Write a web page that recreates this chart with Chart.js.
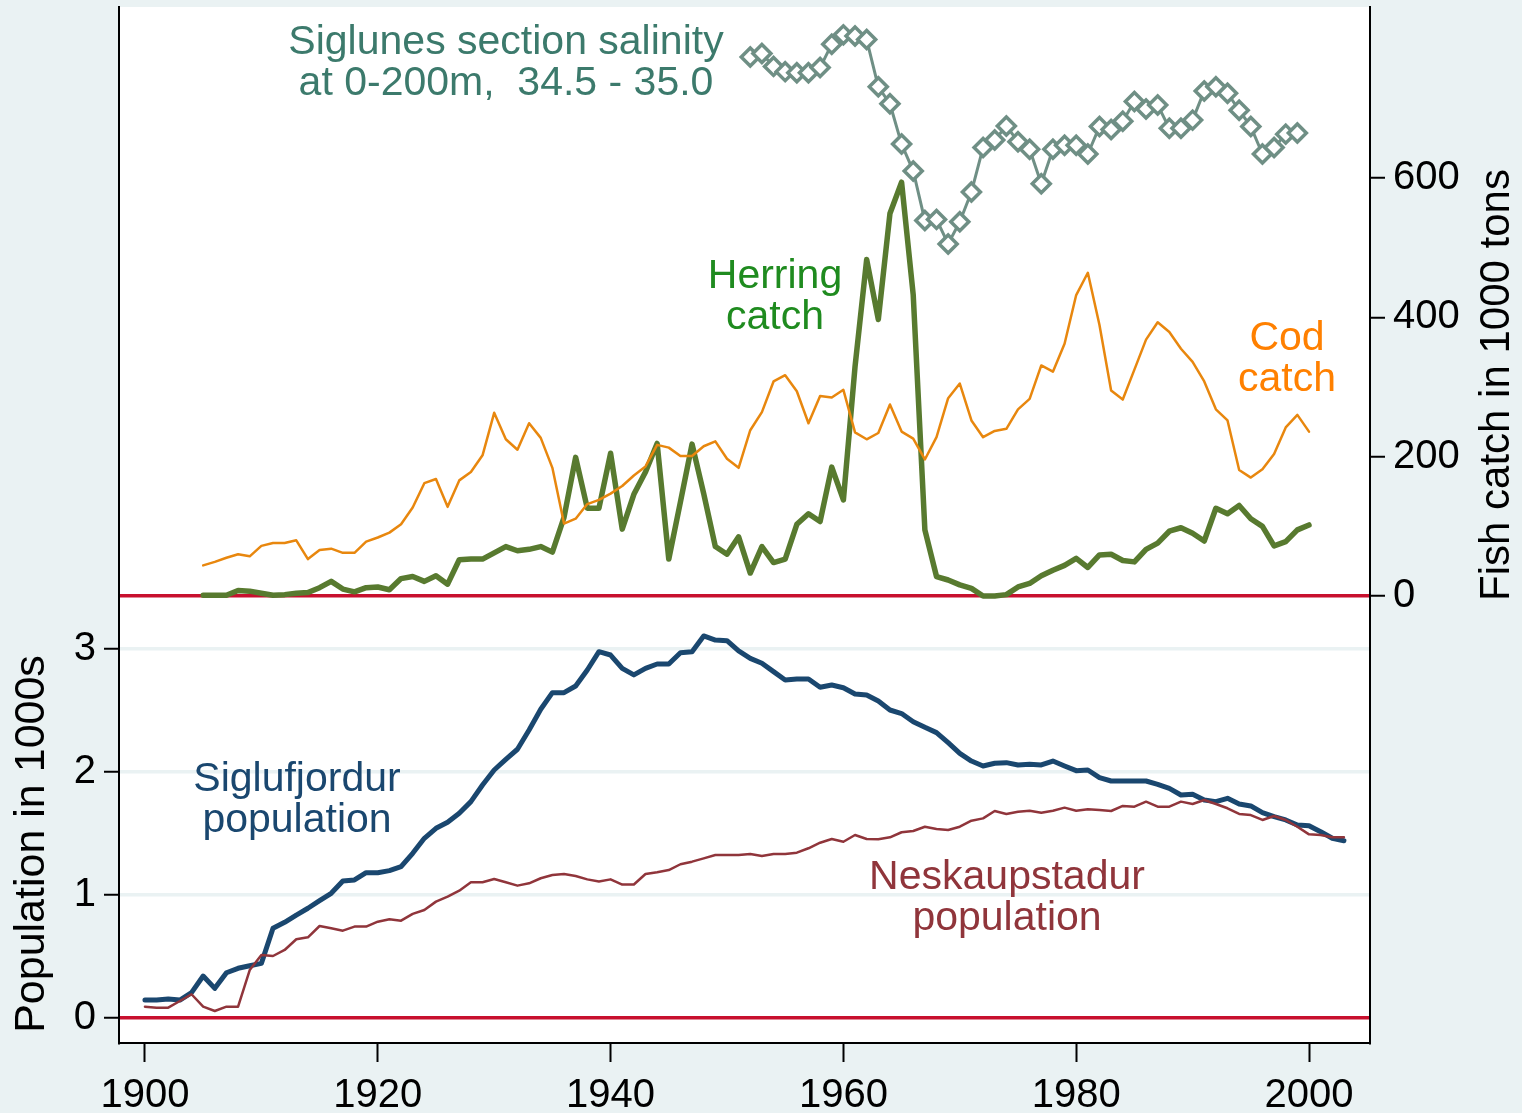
<!DOCTYPE html>
<html>
<head>
<meta charset="utf-8">
<script src="https://cdn.jsdelivr.net/npm/chart.js@4.4.1/dist/chart.umd.min.js"></script>
<style>
html,body{margin:0;padding:0;background:#EAF2F3;}
canvas{display:block;}
</style>
</head>
<body>
<canvas id="c" width="1522" height="1113"></canvas>
<script>
// ---------------- DATA ----------------
const xTicks = [1900, 1920, 1940, 1960, 1980, 2000];
const fishTicks = [0, 200, 400, 600];
const popTicks = [0, 1, 2, 3];

const codStart = 1905;
const codCatch = [44,49,55,60,57,72,76,76,80,53,66,68,62,62,78,84,91,103,127,162,168,128,166,178,202,263,225,210,248,227,184,104,111,132,138,147,158,173,186,217,213,201,201,215,222,197,184,238,264,308,317,294,248,287,285,296,235,225,234,275,236,226,196,228,284,305,252,228,237,240,268,283,331,322,362,432,464,389,295,282,325,368,393,379,355,336,308,268,252,181,170,182,204,242,260,236];

const herringStart = 1905;
const herringCatch = [1,1,1,8,7,4,1,2,4,5,12,21,10,6,12,13,9,25,28,21,29,17,52,53,53,62,71,65,67,71,63,113,199,126,126,205,96,146,178,219,53,135,218,147,71,60,85,33,71,48,53,103,118,107,185,138,329,483,397,549,594,432,95,28,23,16,11,0,0,2,13,18,29,37,44,54,41,59,60,51,49,67,76,93,98,90,79,126,118,130,111,100,72,78,95,102];

const salinityStart = 1952;
const salinity = [34.916,34.922,34.900,34.891,34.889,34.889,34.898,34.938,34.954,34.952,34.946,34.865,34.836,34.767,34.721,34.636,34.638,34.596,34.634,34.685,34.761,34.774,34.798,34.771,34.758,34.699,34.758,34.765,34.765,34.750,34.797,34.792,34.806,34.840,34.827,34.834,34.794,34.794,34.808,34.858,34.865,34.854,34.825,34.797,34.750,34.761,34.784,34.786];

const popStart = 1900;
const siglufjordurPop = [0.146,0.146,0.154,0.146,0.206,0.341,0.241,0.368,0.404,0.425,0.444,0.729,0.778,0.837,0.892,0.954,1.014,1.114,1.122,1.181,1.181,1.198,1.230,1.339,1.461,1.542,1.591,1.664,1.759,1.894,2.016,2.103,2.185,2.341,2.510,2.645,2.645,2.699,2.829,2.978,2.951,2.843,2.789,2.843,2.878,2.878,2.970,2.978,3.106,3.073,3.068,2.984,2.924,2.884,2.816,2.748,2.756,2.756,2.689,2.707,2.685,2.634,2.626,2.577,2.504,2.475,2.409,2.363,2.320,2.238,2.152,2.089,2.049,2.071,2.076,2.057,2.063,2.057,2.089,2.049,2.011,2.016,1.954,1.927,1.927,1.927,1.927,1.900,1.867,1.813,1.819,1.772,1.759,1.786,1.740,1.724,1.669,1.637,1.610,1.569,1.563,1.515,1.461,1.441];
const neskaupstadurPop = [0.092,0.084,0.084,0.138,0.193,0.092,0.057,0.092,0.092,0.390,0.512,0.504,0.553,0.640,0.656,0.748,0.729,0.710,0.743,0.743,0.783,0.802,0.791,0.846,0.878,0.946,0.986,1.035,1.103,1.103,1.130,1.103,1.076,1.095,1.136,1.163,1.171,1.154,1.127,1.110,1.127,1.085,1.085,1.171,1.185,1.203,1.250,1.271,1.298,1.325,1.325,1.325,1.333,1.317,1.333,1.333,1.344,1.380,1.425,1.455,1.433,1.488,1.455,1.453,1.469,1.510,1.520,1.555,1.537,1.528,1.555,1.604,1.623,1.683,1.659,1.677,1.685,1.669,1.685,1.710,1.685,1.697,1.691,1.683,1.724,1.718,1.759,1.718,1.718,1.759,1.740,1.772,1.740,1.705,1.659,1.650,1.610,1.642,1.610,1.555,1.493,1.488,1.469,1.469];

const labels = [
  {lines:["Siglunes section salinity","at 0-200m,  34.5 - 35.0"], x:506, y:43, color:"#3C7A6C"},
  {lines:["Herring","catch"], x:775, y:277, color:"#1F8B1F"},
  {lines:["Cod","catch"], x:1287, y:339, color:"#FF8000"},
  {lines:["Siglufjordur","population"], x:297, y:780, color:"#1A476F"},
  {lines:["Neskaupstadur","population"], x:1007, y:878, color:"#90353B"}
];

// ---------------- HELPERS ----------------
function pts(start, arr){ return arr.map((v,i)=>({x:start+i, y:v})); }
const FONT = "'Liberation Sans', Arial, sans-serif";
const RED = '#C8102E';

const bgPlugin = {
  id:'bg',
  beforeDraw(chart){
    const {ctx, chartArea:a} = chart;
    ctx.save();
    ctx.fillStyle = '#EAF2F3';
    ctx.fillRect(0,0,chart.width,chart.height);
    ctx.fillStyle = '#FFFFFF';
    ctx.fillRect(a.left, a.top, a.right-a.left, a.bottom-a.top);
    ctx.restore();
  }
};

function rotText(ctx, text, x, y, size){
  ctx.save();
  ctx.font = size + "px " + FONT;
  ctx.textAlign = 'center';
  ctx.textBaseline = 'middle';
  ctx.fillStyle = '#000';
  ctx.translate(x, y);
  ctx.rotate(-Math.PI/2);
  ctx.fillText(text, 0, 0);
  ctx.restore();
}

const textPlugin = {
  id:'texts',
  afterDraw(chart){
    const ctx = chart.ctx;
    ctx.save();
    ctx.font = "41px " + FONT;
    ctx.textAlign = 'center';
    ctx.textBaseline = 'middle';
    labels.forEach(l=>{
      ctx.fillStyle = l.color;
      l.lines.forEach((t,i)=>ctx.fillText(t, l.x, l.y + i*41));
    });
    ctx.restore();
    rotText(ctx, "Fish catch in 1000 tons", 1497, 385, 42);
    rotText(ctx, "Population in 1000s", 32, 844, 43);
  }
};

const tickFont = {family:"'Liberation Sans', Arial, sans-serif", size:40};

new Chart(document.getElementById('c'), {
  type:'line',
  data:{
    datasets:[
      {label:'Salinity', data:pts(salinityStart, salinity), yAxisID:'ySal',
       borderColor:'#6F8F85', borderWidth:3, pointStyle:'rectRot', pointRadius:9,
       pointBorderWidth:3.5, pointBackgroundColor:'#FFFFFF', pointBorderColor:'#6F8F85', tension:0},
      {label:'Cod', data:pts(codStart, codCatch), yAxisID:'yFish',
       borderColor:'#E8870E', borderWidth:2.5, pointRadius:0, tension:0},
      {label:'Herring', data:pts(herringStart, herringCatch), yAxisID:'yFish',
       borderColor:'#587A2F', borderWidth:5.5, pointRadius:0, tension:0},
      {label:'Neskaupstadur', data:pts(popStart, neskaupstadurPop), yAxisID:'yPop',
       borderColor:'#90353B', borderWidth:2.5, pointRadius:0, tension:0},
      {label:'Siglufjordur', data:pts(popStart, siglufjordurPop), yAxisID:'yPop',
       borderColor:'#1A476F', borderWidth:5, pointRadius:0, tension:0}
    ]
  },
  options:{
    responsive:false, animation:false, devicePixelRatio:1,
    layout:{autoPadding:false, padding:{top:7,left:0,right:0,bottom:0}},
    plugins:{legend:{display:false}, tooltip:{enabled:false}},
    elements:{line:{borderJoinStyle:'round', borderCapStyle:'round'}},
    scales:{
      x:{type:'linear', position:'bottom', min:1897.77, max:2005.24,
         afterFit(s){s.height=70; s.paddingLeft=0; s.paddingRight=0;},
         afterBuildTicks(s){s.ticks = xTicks.map(v=>({value:v}));},
         ticks:{font:tickFont, color:'#000', padding:10, maxRotation:0, autoSkip:false, callback:v=>String(v)},
         grid:{drawOnChartArea:false, drawTicks:true, tickLength:19, tickColor:'#000', tickWidth:2},
         border:{display:true, color:'#000', width:2}},
      yFish:{type:'linear', position:'right', min:-641.6, max:845.5,
         afterFit(s){s.width=152; s.paddingTop=0; s.paddingBottom=0;},
         afterBuildTicks(s){s.ticks = fishTicks.map(v=>({value:v}));},
         ticks:{font:tickFont, color:'#000', padding:8, autoSkip:false, callback:v=>String(v)},
         grid:{drawOnChartArea:true, drawTicks:true, tickLength:15, tickColor:'#000', tickWidth:2,
               color:c=>(c.tick && c.tick.value===0)?RED:'rgba(0,0,0,0)', lineWidth:3.5},
         border:{display:true, color:'#000', width:2}},
      yPop:{type:'linear', position:'left', min:-0.2033, max:8.2195,
         afterFit(s){s.width=119; s.paddingTop=0; s.paddingBottom=0;},
         afterBuildTicks(s){s.ticks = popTicks.map(v=>({value:v}));},
         ticks:{font:tickFont, color:'#000', padding:8, autoSkip:false, callback:v=>String(v)},
         grid:{drawOnChartArea:true, drawTicks:true, tickLength:15, tickColor:'#000', tickWidth:2,
               color:c=>(c.tick && c.tick.value===0)?RED:'#EAF2F3', lineWidth:3.5},
         border:{display:true, color:'#000', width:2}},
      ySal:{type:'linear', display:false, min:33.2277, max:35.0017}
    }
  },
  plugins:[bgPlugin, textPlugin]
});
</script>
</body>
</html>
